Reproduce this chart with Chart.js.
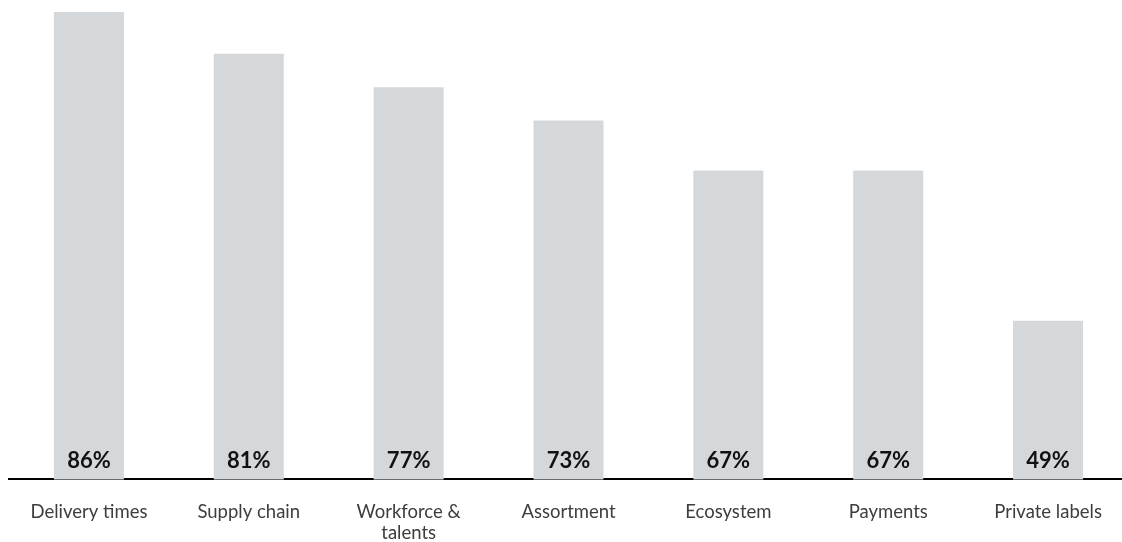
<!DOCTYPE html>
<html>
<head>
<meta charset="utf-8">
<script src="https://cdn.jsdelivr.net/npm/chart.js@4/dist/chart.umd.min.js"></script>
<style>
  html, body { margin: 0; padding: 0; background: #fff; overflow: hidden; }
  #wrap { position: relative; width: 1128px; height: 566px; }
</style>
</head>
<body>
<div id="wrap"><canvas id="c"></canvas></div>
<script>
const categories = ['Delivery times', 'Supply chain', ['Workforce &', 'talents'], 'Assortment', 'Ecosystem', 'Payments', 'Private labels'];
const values = [86, 81, 77, 73, 67, 67, 49];
const valueLabels = ['86%', '81%', '77%', '73%', '67%', '67%', '49%'];

const labelPlugin = {
  id: 'valueLabels',
  afterDatasetsDraw(chart) {
    const ctx = chart.ctx;
    const meta = chart.getDatasetMeta(0);
    const base = chart.scales.y.getPixelForValue(chart.scales.y.min);
    ctx.save();
    ctx.font = 'bold 22px Lato';
    ctx.fillStyle = '#111';
    ctx.textAlign = 'center';
    ctx.textBaseline = 'middle';
    meta.data.forEach((bar, i) => {
      ctx.fillText(valueLabels[i], bar.x, base - 19);
    });
    ctx.restore();
  }
};

new Chart(document.getElementById('c'), {
  type: 'bar',
  data: {
    labels: categories,
    datasets: [{
      data: values,
      backgroundColor: '#d5d8db',
      borderWidth: 0,
      barPercentage: 1,
      categoryPercentage: 0.438
    }]
  },
  options: {
    responsive: true,
    maintainAspectRatio: false,
    animation: false,
    layout: { padding: { left: 9, right: 0, top: 12, bottom: 0 } },
    plugins: { legend: { display: false }, tooltip: { enabled: false } },
    scales: {
      x: {
        grid: { display: false, drawTicks: false },
        border: { display: true, color: '#000', width: 2 },
        ticks: {
          font: { family: 'Lato', size: 18.5, lineHeight: 1.15 },
          color: '#3d3d3d',
          padding: 22,
          maxRotation: 0,
          autoSkip: false
        }
      },
      y: {
        display: false,
        min: 30,
        max: 86
      }
    }
  },
  plugins: [labelPlugin]
});
</script>
</body>
</html>
